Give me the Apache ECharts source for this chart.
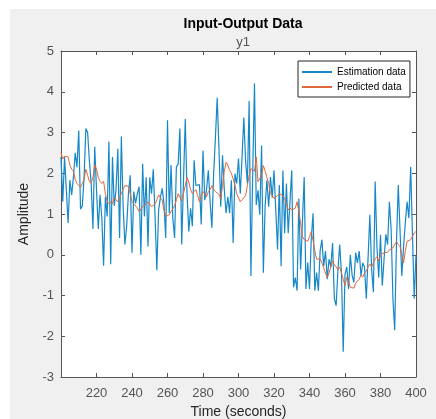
<!DOCTYPE html>
<html>
<head>
<meta charset="utf-8">
<script src="https://cdn.jsdelivr.net/npm/echarts@6/dist/echarts.min.js"></script>
<style>
  html, body { margin: 0; padding: 0; background: #fff; }
  #chart { position: absolute; left: 10px; top: 9px; width: 426px; height: 410px; }
</style>
</head>
<body>
<div id="chart"></div>
<script>
// samples every second from 200 s to 400 s
const startTime = 200;
const sampleTime = 1;

const estimationData = [
  2.4, 1.3, 2.4, 1.6, 0.78, 1.83, 1.47, 1.9, 2.5, 2.15, 3.05, 1.12, 1.2, 1.9, 3.1, 3.0, 2.3,
  1.75, 0.63, 2.65, 1.6, 0.63, 1.47, 0.9, -0.27, 1.42, 0.94, 2.78, -0.23, 2.4, 1.2, 1.6, 2.6,
  0.41, 2.9, 1.2, 0.25, 0.7, 1.5, 1.95, 0.05, 1.55, 1.26, 1.5, 1.67, 0.0, 2.23, 0.94, 1.9,
  0.2, 1.9, 1.5, 2.1, 0.94, -0.38, 1.1, 1.4, 1.63, 1.26, 0.41, 3.3, 1.02, 2.2, 0.9, 0.41,
  2.15, 2.23, 3.1,
  0.25, 1.8, 3.33, 1.5, 0.57, 1.14, 0.7, 2.32, 1.7, 1.67, 1.72, 0.74, 2.56, 1.34, 1.6, 2.07,
  1.3, 0.66, 1.99, 2.88, 3.85, 2.6, 1.18, 2.44, 1.6, 1.02, 1.42, 1.02, 1.83, 0.29, 1.99, 1.75, 2.36,
  1.5, 2.4, 3.37, 2.3, 1.75, 3.77, -0.52, 2.0, 4.2, 1.22, 1.58, 0.98, 2.68, -0.44, 1.2, 1.83,
  1.18, 1.91, 1.4, 2.07, 1.1, 0.13, 1.71, -0.28, 2.07, 0.53, 1.75, 0.53, 1.3, 2.07, -0.8,
  -0.56, -0.88, 1.38,
  -0.36, 0.8, 1.91, -0.84, -0.19, -0.84, 0.4, 1.02, -0.88, -0.44, -0.88, 0.1, 0.37, -0.28,
  0.09, -0.6, -0.11, -0.3, 0.29, -1.08, -1.25, -0.4, 0.25, -0.44, -2.38, -0.48, -0.3, -0.84,
  0.0, -0.5, -0.68, 0.05, -0.2, 0.09,
  -0.52, -0.2, -0.3, -1.08, -0.07, 0.98, -0.36, -0.92, 1.8, 0.2, -0.56, 0.49, -0.76, -0.11,
  0.5, 0.25, 1.3, 0.62, -1.08, -1.85, 0.29, 1.71, 0.6, -0.52, 0.2, 0.8, 1.3, 0.9, 2.16, 0.5,
  -1.08, 0.0
];

const predictedData = [
  2.5, 2.35, 2.42, 2.45, 2.4, 2.2, 2.1, 2.05, 1.85, 1.75, 1.7, 1.65, 1.75, 1.85, 2.1, 1.95, 1.8,
  1.75, 1.9, 2.2, 2.1, 1.9, 1.8, 1.75, 1.8, 1.5, 1.3, 1.25, 1.3, 1.25, 1.4, 1.35, 1.3,
  1.4, 1.5, 1.6, 1.7, 1.72, 1.68, 1.5, 1.3, 1.25, 1.22, 1.15, 1.06, 1.1, 1.18, 1.22, 1.25,
  1.3, 1.28, 1.18, 1.2, 1.25, 1.35, 1.47, 1.4, 1.34, 1.1, 0.94, 0.9, 0.98, 1.06, 1.02, 1.2,
  1.35, 1.5, 1.52,
  1.32, 1.5, 1.7, 1.9, 1.78, 1.6, 1.5, 1.55, 1.6, 1.45, 1.3, 1.45, 1.55, 1.5, 1.42, 1.55,
  1.6, 1.7, 1.6, 1.55, 1.54, 1.48, 1.38, 1.7, 2.05, 2.27, 2.2, 2.07, 2.0, 1.86, 1.7, 1.5, 1.47,
  1.3, 1.35, 1.4, 1.45, 1.7, 1.95, 2.11, 2.1, 2.05, 2.4, 1.79, 1.8, 1.95, 2.19, 2.05, 1.9,
  1.75, 1.5, 1.45, 1.38, 1.4, 1.45, 1.5, 1.54, 1.45, 1.38, 1.25, 1.1, 1.15, 1.1, 1.12, 1.14, 1.3,
  1.05, 0.78, 0.45, 0.37, 0.4, 0.33, 0.45, 0.57, 0.35, 0.1, -0.11, -0.15, -0.1, -0.2, -0.32,
  -0.45, -0.56, -0.45, -0.3, -0.15, -0.25, -0.3, -0.36, -0.3, -0.45, -0.6, -0.76, -0.55,
  -0.65, -0.8, -0.84, -0.82, -0.7, -0.66,
  -0.6, -0.5, -0.55, -0.45, -0.4, -0.3, -0.23, -0.3, -0.2, -0.1, -0.05, -0.15, 0.0, 0.02,
  0.05, 0.08, 0.06, 0.12, 0.15, 0.17, 0.25, 0.32, 0.25, 0.2, 0.0, -0.2, 0.1, 0.33, 0.32,
  0.37, 0.45, 0.53, 0.57
];

const seriesNames = ["Estimation data", "Predicted data"];
const xTicks = [200, 400, 20];
const yTicks = [-3, 5, 1];

const toPoints = (arr) => arr.map((v, i) => [startTime + i * sampleTime, v]);

const axisColor = "#555";
const labelColor = "#555";
const font = "Arial, 'Liberation Sans', sans-serif";

const chart = echarts.init(document.getElementById("chart"));

const xBase = {
  type: "value",
  min: xTicks[0],
  max: xTicks[1],
  interval: xTicks[2],
  splitLine: { show: false },
  axisLine: { show: true, onZero: false, lineStyle: { color: axisColor, width: 1 } },
  axisTick: { show: true, inside: true, length: 4, lineStyle: { color: axisColor } }
};
const yBase = {
  type: "value",
  min: yTicks[0],
  max: yTicks[1],
  interval: yTicks[2],
  splitLine: { show: false },
  axisLine: { show: true, onZero: false, lineStyle: { color: axisColor, width: 1 } },
  axisTick: { show: true, inside: true, length: 4, lineStyle: { color: axisColor } }
};

chart.setOption({
  backgroundColor: "#f0f0f0",
  animation: false,
  textStyle: { fontFamily: font },
  title: [
    {
      text: "Input-Output Data",
      left: 228,
      top: 3,
      textAlign: "center",
      textStyle: { fontSize: 14, fontWeight: "bold", color: "#000", fontFamily: font }
    },
    {
      text: "y1",
      left: 228,
      top: 22,
      textAlign: "center",
      textStyle: { fontSize: 13, fontWeight: "normal", color: labelColor, fontFamily: font }
    }
  ],
  legend: {
    orient: "vertical",
    left: 288,
    top: 52,
    data: seriesNames,
    icon: "rect",
    itemWidth: 30,
    itemHeight: 2,
    itemGap: 5,
    padding: [6, 4, 5, 4],
    backgroundColor: "#fff",
    borderColor: "#262626",
    borderWidth: 1,
    borderRadius: 0,
    textStyle: { fontSize: 10, color: "#000", fontFamily: font }
  },
  grid: {
    left: 51,
    top: 42,
    right: 20,
    bottom: 42,
    outerBoundsMode: "none",
    show: true,
    backgroundColor: "#fff",
    borderWidth: 0
  },
  xAxis: [
    {
      ...xBase,
      position: "bottom",
      name: "Time (seconds)",
      nameLocation: "middle",
      nameGap: 23,
      nameTextStyle: { fontSize: 14, color: "#262626", fontFamily: font },
      axisLabel: {
        fontSize: 13,
        color: labelColor,
        margin: 10,
        formatter: (v) => (v === xTicks[0] ? "" : String(v))
      }
    },
    { ...xBase, position: "top", axisLabel: { show: false } }
  ],
  yAxis: [
    {
      ...yBase,
      position: "left",
      name: "Amplitude",
      nameLocation: "middle",
      nameGap: 27,
      nameTextStyle: { fontSize: 14, color: "#262626", fontFamily: font },
      axisLabel: { fontSize: 13, color: labelColor, margin: 7 }
    },
    { ...yBase, position: "right", axisLabel: { show: false } }
  ],
  series: [
    {
      name: seriesNames[0],
      type: "line",
      data: toPoints(estimationData),
      showSymbol: false,
      color: "#1688c8",
      lineStyle: { width: 1.2, color: "#1688c8" },
      z: 2
    },
    {
      name: seriesNames[1],
      type: "line",
      data: toPoints(predictedData),
      showSymbol: false,
      color: "#e0683a",
      lineStyle: { width: 1, color: "#e0683a" },
      z: 3
    }
  ]
});
</script>
</body>
</html>
